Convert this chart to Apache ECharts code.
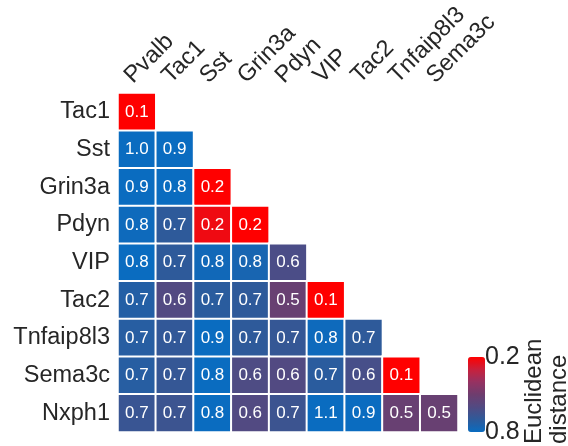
<!DOCTYPE html>
<html>
<head>
<meta charset="utf-8">
<script src="https://cdn.jsdelivr.net/npm/echarts@6/dist/echarts.min.js"></script>
<style>
  html, body { margin: 0; padding: 0; background: #ffffff; }
  #chart { width: 568px; height: 446px; }
</style>
</head>
<body>
<div id="chart"></div>
<script>
// Column (x) and row (y) markers of the lower-triangular distance matrix
const colNames = ['Pvalb', 'Tac1', 'Sst', 'Grin3a', 'Pdyn', 'VIP', 'Tac2', 'Tnfaip8l3', 'Sema3c'];
const rowNames = ['Tac1', 'Sst', 'Grin3a', 'Pdyn', 'VIP', 'Tac2', 'Tnfaip8l3', 'Sema3c', 'Nxph1'];

// Euclidean distances, one array per row (row i has i+1 entries)
const rowTac1      = [0.10];
const rowSst       = [1.00, 0.90];
const rowGrin3a    = [0.90, 0.81, 0.20];
const rowPdyn      = [0.79, 0.70, 0.23, 0.20];
const rowVIP       = [0.82, 0.70, 0.78, 0.76, 0.62];
const rowTac2      = [0.73, 0.60, 0.71, 0.70, 0.52, 0.10];
const rowTnfaip8l3 = [0.72, 0.69, 0.90, 0.70, 0.68, 0.79, 0.70];
const rowSema3c    = [0.72, 0.68, 0.82, 0.61, 0.60, 0.71, 0.63, 0.10];
const rowNxph1     = [0.67, 0.66, 0.80, 0.60, 0.66, 1.10, 0.90, 0.52, 0.52];

// Colour scale range and its end labels
const scaleMin = 0.2;
const scaleMax = 0.8;
const scaleTicks = ['0.2', '0.8'];
const scaleTitle = 'Euclidean\ndistance';

const rows = [rowTac1, rowSst, rowGrin3a, rowPdyn, rowVIP, rowTac2, rowTnfaip8l3, rowSema3c, rowNxph1];
const cells = [];
rows.forEach((vals, r) => vals.forEach((v, c) => cells.push([c, r, v])));

const chart = echarts.init(document.getElementById('chart'), null, { renderer: 'canvas' });
const FONT = '"Liberation Sans", Arial, sans-serif';
const INK = '#262626';

chart.setOption({
  backgroundColor: '#ffffff',
  animation: false,
  grid: { left: 118, top: 93, width: 340, height: 339 },
  xAxis: {
    type: 'category',
    data: colNames,
    position: 'top',
    axisLine: { show: false },
    axisTick: { show: false },
    splitLine: { show: false },
    axisLabel: {
      rotate: -45, margin: 5, interval: 0,
      align: 'left', verticalAlign: 'bottom',
      color: INK, fontSize: 23.5, fontFamily: FONT
    }
  },
  yAxis: {
    type: 'category',
    data: rowNames,
    inverse: true,
    axisLine: { show: false },
    axisTick: { show: false },
    splitLine: { show: false },
    axisLabel: {
      margin: 8, interval: 0,
      color: INK, fontSize: 23.5, fontFamily: FONT
    }
  },
  visualMap: {
    type: 'continuous',
    min: scaleMin,
    max: scaleMax,
    inverse: true,
    calculable: false,
    showLabel: false,
    text: ['', ''],
    orient: 'vertical',
    left: 468,
    top: 357,
    itemWidth: 17,
    itemHeight: 75,
    padding: 0,
    inRange: {
      color: ['#ff0000', '#c8203c', '#963262', '#6e3d6e', '#524a82', '#2e5a9a', '#0a6cc0']
    }
  },
  graphic: [
    { type: 'text', x: 485, y: 357,
      style: { text: scaleTicks[0], fontSize: 25, fontFamily: FONT, fill: INK,
               align: 'left', verticalAlign: 'middle' } },
    { type: 'text', x: 485, y: 432,
      style: { text: scaleTicks[1], fontSize: 25, fontFamily: FONT, fill: INK,
               align: 'left', verticalAlign: 'middle' } },
    { type: 'text', x: 522, y: 444, rotation: Math.PI / 2,
      style: { text: scaleTitle, fontSize: 24, fontFamily: FONT, fill: INK,
               lineHeight: 25, align: 'left', verticalAlign: 'top' } }
  ],
  series: [{
    type: 'heatmap',
    data: cells,
    itemStyle: { borderColor: '#ffffff', borderWidth: 2 },
    label: {
      show: true,
      color: '#ffffff',
      fontSize: 17,
      fontFamily: FONT,
      formatter: p => p.value[2].toFixed(1)
    },
    emphasis: { disabled: true }
  }]
});
</script>
</body>
</html>
